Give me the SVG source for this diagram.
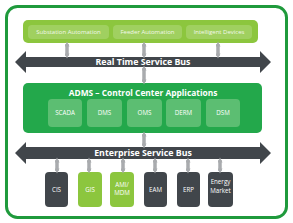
<svg xmlns="http://www.w3.org/2000/svg" width="293" height="223" viewBox="0 0 293 223">
<defs>
<marker id="ah" viewBox="0 0 10 10" refX="5" refY="5" markerWidth="8" markerHeight="5" markerUnits="userSpaceOnUse" orient="auto-start-reverse">
<path d="M0,0 L10,5 L0,10 Z" fill="#a9abae"/>
</marker>
</defs>
<style>
.t{font-family:"Open Sans","DejaVu Sans",sans-serif;fill:#fff;text-anchor:middle}
.bus{fill:#41464b}
.busT{font-size:8.8px;font-weight:bold}
.sm{font-size:6px;fill:#f2f8ea}
.app{font-size:6.2px}
.conn line{stroke:#a9abae;stroke-width:3.5;marker-start:url(#ah);marker-end:url(#ah)}
.lg{fill:#8cc63e}
.lgi{fill:#a0d060}
.dk{fill:#41464b}
.ai{fill:#5cbe72}
</style>
<rect x="6.5" y="6.5" width="280" height="211" rx="11" fill="#fff" stroke="#1f9a3c" stroke-width="3"/>

<g id="field">
<rect x="23" y="20" width="235" height="23" rx="5" class="lg"/>
<g id="substation"><rect x="28" y="25" width="81" height="14" rx="4" class="lgi"/><text class="t sm" x="68.5" y="34.2">Substation Automation</text></g>
<g id="feeder"><rect x="113" y="25" width="69" height="14" rx="4" class="lgi"/><text class="t sm" x="147.5" y="34.2">Feeder Automation</text></g>
<g id="devices"><rect x="186" y="25" width="66" height="14" rx="4" class="lgi"/><text class="t sm" x="219" y="34.2">Intelligent Devices</text></g>
</g>

<g id="rtbus">
<polygon class="bus" points="15,62 26,51 26,57 260,57 260,51 271,62 260,73 260,67 26,67 26,73"/>
<text class="t busT" x="143" y="65.2">Real Time Service Bus</text>
</g>

<g id="adms">
<rect x="23" y="83" width="239" height="50" rx="5" fill="#23a84b"/>
<text class="t" x="143" y="96" font-size="8.4" font-weight="bold">ADMS – Control Center Applications</text>
<g id="scada"><rect x="48" y="99" width="34" height="28" rx="4" class="ai"/><text class="t app" x="65" y="115.2">SCADA</text></g>
<g id="dms"><rect x="87" y="99" width="35" height="28" rx="4" class="ai"/><text class="t app" x="104.5" y="115.2">DMS</text></g>
<g id="oms"><rect x="127" y="99" width="35" height="28" rx="4" class="ai"/><text class="t app" x="144.5" y="115.2">OMS</text></g>
<g id="derm"><rect x="166" y="99" width="35" height="28" rx="4" class="ai"/><text class="t app" x="183.5" y="115.2">DERM</text></g>
<g id="dsm"><rect x="206" y="99" width="34" height="28" rx="4" class="ai"/><text class="t app" x="223" y="115.2">DSM</text></g>
</g>

<g id="esbus">
<polygon class="bus" points="15,153 26,142 26,147 260,147 260,142 271,153 260,164 260,159 26,159 26,164"/>
<text class="t busT" x="143" y="156.2">Enterprise Service Bus</text>
</g>

<g id="cis"><rect x="45" y="172" width="23" height="35" rx="4" class="dk"/><text class="t app" x="56.5" y="191.5">CIS</text></g>
<g id="gis"><rect x="78" y="172" width="24" height="35" rx="4" class="lg"/><text class="t app" x="90" y="191.5">GIS</text></g>
<g id="ami"><rect x="110" y="172" width="24" height="35" rx="4" class="lg"/><text class="t app" x="122" y="187">AMI/</text><text class="t app" x="122" y="194.5">MDM</text></g>
<g id="eam"><rect x="144" y="172" width="23" height="35" rx="4" class="dk"/><text class="t app" x="155.5" y="191.5">EAM</text></g>
<g id="erp"><rect x="177" y="172" width="23" height="35" rx="4" class="dk"/><text class="t app" x="188.5" y="191.5">ERP</text></g>
<g id="market"><rect x="208" y="172" width="25" height="35" rx="4" class="dk"/><text class="t app" x="220.5" y="184" font-size="5.4">Energy</text><text class="t app" x="220.5" y="192.5" font-size="5.4">Market</text></g>

<g class="conn" id="connectors">
<line x1="67" y1="44" x2="67" y2="56"/>
<line x1="144" y1="44" x2="144" y2="56"/>
<line x1="218" y1="44" x2="218" y2="56"/>
<line x1="144" y1="68" x2="144" y2="82"/>
<line x1="144" y1="134" x2="144" y2="146"/>
<line x1="57" y1="160" x2="57" y2="171"/>
<line x1="89" y1="160" x2="89" y2="171"/>
<line x1="123" y1="160" x2="123" y2="171"/>
<line x1="155" y1="160" x2="155" y2="171"/>
<line x1="188" y1="160" x2="188" y2="171"/>
<line x1="220" y1="160" x2="220" y2="171"/>
</g>
</svg>
